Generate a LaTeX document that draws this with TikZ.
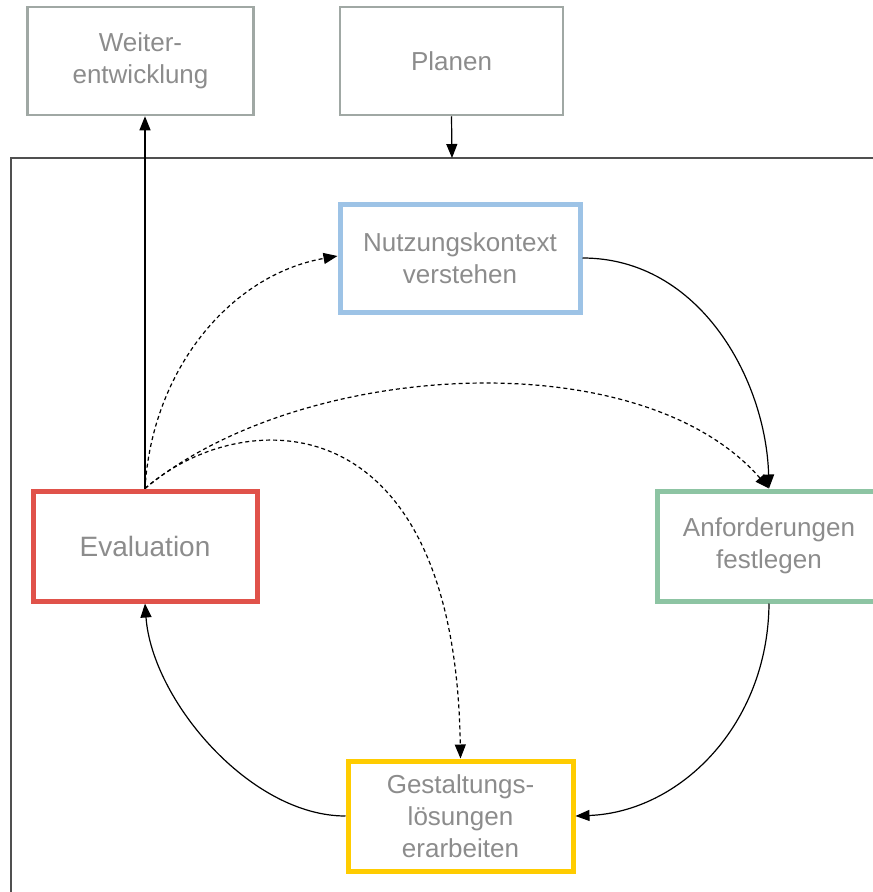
\documentclass[tikz,border=0pt]{standalone}
\usepackage{fontspec}
\setmainfont{Liberation Sans}
\usetikzlibrary{arrows.meta}
\definecolor{boxgray}{HTML}{A0A8A4}
\definecolor{txtgray}{HTML}{8C8C8C}
\definecolor{frameg}{HTML}{505050}
\definecolor{cblue}{HTML}{9DC3E6}
\definecolor{cred}{HTML}{E0524A}
\definecolor{cgreen}{HTML}{8DC4A3}
\definecolor{cyellow}{HTML}{FFCC00}
\begin{document}
\begin{tikzpicture}[x=1pt,y=-1pt,
  txt/.style={text=txtgray,align=center,font=\fontsize{26}{32}\selectfont,inner sep=0pt},
  outerbox/.style={txt,draw=boxgray,line width=2.5pt,minimum width=226pt,minimum height=108pt},
  phase/.style={txt,line width=5pt,minimum width=224pt,minimum height=110pt},
  flow/.style={-{Triangle[length=14pt,width=11pt]},line width=1.2pt,black},
  loop/.style={flow,dashed,dash pattern=on 4pt off 3pt}]
\useasboundingbox (0,0) rectangle (873,892);
\clip (0,0) rectangle (873,892);
% surrounding frame of the process cycle
\draw[frameg,line width=1.3pt] (11,910) -- (11,158) -- (900,158);
\coordinate (ftop) at (452,158);
% nodes
\node[outerbox] (weiter) at (140.5,61) {Weiter-\\entwicklung};
\node[outerbox,minimum width=223pt] (planen) at (451.5,61) {Planen};
\node[phase,draw=cblue,minimum width=240pt,minimum height=108pt] (nutz) at (460,258) {Nutzungskontext\\verstehen};
\node[phase,draw=cred,font=\fontsize{28}{32}\selectfont] (eval) at (145,546) {Evaluation};
\node[phase,draw=cgreen] (anf) at (769,546) {\raisebox{-3pt}{\begin{tabular}{@{}c@{}}Anforderungen\\festlegen\end{tabular}}};
\node[phase,draw=cyellow,minimum width=225pt] (gest) at (460.5,816) {Gestaltungs-\\lösungen\\erarbeiten};
% straight connectors
\draw[flow] (eval.north) -- (eval.north |- weiter.south);
\draw[flow] (planen.south) -- (ftop);
% main cycle
\draw[flow] (nutz.east) .. controls (700,258) and (766,380) .. (anf.north);
\draw[flow] (anf.south) .. controls (768,725) and (680,812) .. (gest.east);
\draw[flow] (gest.west) .. controls (250,816) and (152,700) .. (eval.north |- eval.south);
% iteration loops from the evaluation
\draw[loop] (eval.north) .. controls (152,370) and (230,275) .. ([yshift=2pt]nutz.west);
\draw[loop] (eval.north) .. controls (300,360) and (640,340) .. (anf.north);
\draw[loop] (eval.north) .. controls (240,405) and (455,395) .. (gest.north);
\end{tikzpicture}
\end{document}
